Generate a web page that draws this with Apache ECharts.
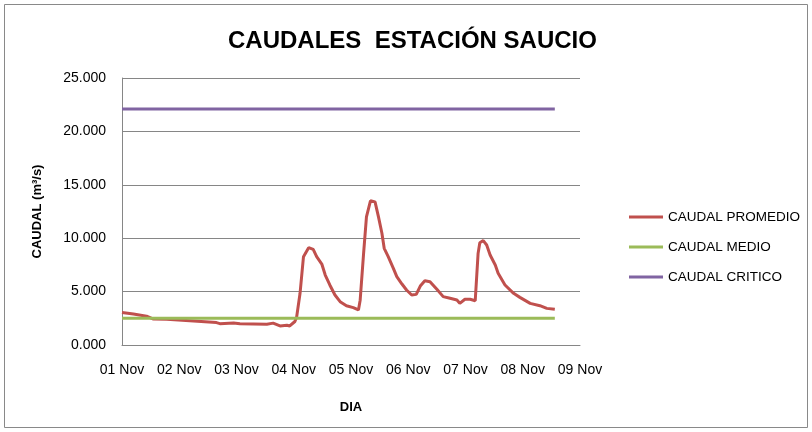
<!DOCTYPE html>
<html>
<head>
<meta charset="utf-8">
<script src="https://cdn.jsdelivr.net/npm/echarts@6/dist/echarts.min.js"></script>
<style>
  html, body { margin: 0; padding: 0; background: #fff; }
  #chart { width: 812px; height: 432px; }
</style>
</head>
<body>
<div id="chart"></div>
<script>
// eje x: dias desde 01 Nov 00:00
const dayLabels = ['01 Nov', '02 Nov', '03 Nov', '04 Nov', '05 Nov', '06 Nov', '07 Nov', '08 Nov', '09 Nov']

// caudal promedio (m3/s)
const promedioDias = [
  0.00, 0.20, 0.43, 0.55, 0.78, 1.25, 1.65, 1.71, 1.95, 2.06,
  2.53, 2.64, 2.76, 2.88, 2.93, 3.02, 3.05, 3.11, 3.17, 3.26,
  3.34, 3.40, 3.49, 3.55, 3.63, 3.72, 3.81, 3.92, 4.04, 4.13,
  4.16, 4.22, 4.27, 4.34, 4.42, 4.48, 4.54, 4.58, 4.65, 4.74,
  4.80, 4.89, 4.97, 5.06, 5.14, 5.21, 5.29, 5.38, 5.50, 5.61,
  5.73, 5.85, 5.90, 5.99, 6.08, 6.17, 6.22, 6.25, 6.31, 6.37,
  6.43, 6.52, 6.57, 6.69, 6.84, 6.95, 7.13, 7.30, 7.42, 7.56
]
const promedioValores = [
  3.05, 2.90, 2.70, 2.43, 2.40, 2.25, 2.10, 2.00, 2.05, 1.98,
  1.95, 2.05, 1.78, 1.85, 1.78, 2.20, 2.60, 4.84, 8.27, 9.11,
  8.95, 8.27, 7.58, 6.55, 5.62, 4.68, 4.06, 3.68, 3.50, 3.28,
  4.20, 8.58, 12.00, 13.50, 13.40, 12.00, 10.46, 9.05, 8.27, 7.18,
  6.40, 5.71, 5.15, 4.68, 4.74, 5.52, 6.02, 5.93, 5.21, 4.53,
  4.37, 4.21, 3.90, 4.28, 4.28, 4.15, 8.58, 9.58, 9.77, 9.36,
  8.43, 7.49, 6.71, 5.62, 4.84, 4.46, 3.90, 3.68, 3.43, 3.34
]

const caudalMedio = 2.5
const caudalCritico = 22.1
const finDias = 7.56

const chart = echarts.init(document.getElementById('chart'))

const font = "'Liberation Sans', Arial, sans-serif"

const option = {
  animation: false,
  backgroundColor: '#fff',
  title: {
    text: 'CAUDALES  ESTACIÓN SAUCIO',
    left: 228,
    top: 29,
    padding: 0,
    textStyle: {
      fontFamily: font,
      fontWeight: 'bold',
      fontSize: 24,
      color: '#000'
    }
  },
  graphic: [{
    type: 'rect',
    shape: { x: 4.5, y: 4.5, width: 803, height: 423 },
    style: { fill: 'none', stroke: '#898989', lineWidth: 1 },
    silent: true
  }],
  legend: {
    orient: 'vertical',
    left: 629,
    top: 209,
    padding: 0,
    itemWidth: 34,
    itemHeight: 3,
    itemGap: 14,
    icon: 'rect',
    textStyle: { fontFamily: font, fontSize: 13.5, color: '#000', lineHeight: 16 },
    data: ['CAUDAL PROMEDIO', 'CAUDAL MEDIO', 'CAUDAL CRITICO']
  },
  grid: { left: 122, right: 232, top: 78, bottom: 87 },
  xAxis: {
    type: 'value',
    min: 0,
    max: 8,
    interval: 1,
    name: 'DIA',
    nameLocation: 'middle',
    nameGap: 56,
    nameTextStyle: { fontFamily: font, fontSize: 13, fontWeight: 'bold', color: '#000' },
    axisLine: { lineStyle: { color: '#868686' } },
    axisTick: { show: false },
    splitLine: { show: false },
    axisLabel: {
      margin: 18,
      fontFamily: font,
      fontSize: 14,
      color: '#000',
      formatter: v => dayLabels[Math.round(v)]
    }
  },
  yAxis: {
    type: 'value',
    min: 0,
    max: 25,
    interval: 5,
    name: 'CAUDAL (m³/s)',
    nameLocation: 'middle',
    nameGap: 78,
    nameTextStyle: { fontFamily: font, fontSize: 13, fontWeight: 'bold', color: '#000' },
    axisLine: { show: true, lineStyle: { color: '#868686' } },
    axisTick: { show: false },
    splitLine: { lineStyle: { color: '#868686' } },
    axisLabel: {
      margin: 16,
      fontFamily: font,
      fontSize: 14,
      color: '#000',
      formatter: v => v.toFixed(3)
    }
  },
  series: [
    {
      name: 'CAUDAL PROMEDIO',
      type: 'line',
      showSymbol: false,
      color: '#C0504D',
      lineStyle: { width: 3, color: '#C0504D' },
      data: promedioDias.map((d, i) => [d, promedioValores[i]]),
      z: 3
    },
    {
      name: 'CAUDAL MEDIO',
      type: 'line',
      showSymbol: false,
      color: '#9BBB59',
      lineStyle: { width: 3, color: '#9BBB59' },
      data: [[0, caudalMedio], [finDias, caudalMedio]],
      z: 4
    },
    {
      name: 'CAUDAL CRITICO',
      type: 'line',
      showSymbol: false,
      color: '#8064A2',
      lineStyle: { width: 3, color: '#8064A2' },
      data: [[0, caudalCritico], [finDias, caudalCritico]],
      z: 2
    }
  ]
}

chart.setOption(option)
window.addEventListener('resize', () => chart.resize())
</script>
</body>
</html>
